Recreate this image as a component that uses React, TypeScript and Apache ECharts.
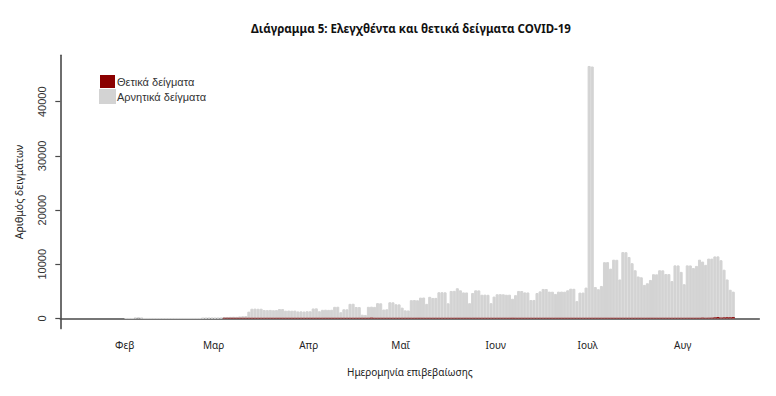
import React, { useEffect, useRef } from "react";
import * as echarts from "echarts";

// Day categories: 2020-01-11 .. 2020-08-25 (228 days); data from 1 Feb to 17 Aug
const startDateUTC = Date.UTC(2020, 0, 11);
const dayCount = 228;
const leadingEmptyDays = 21;
const monthNames = ["Ιαν", "Φεβ", "Μαρ", "Απρ", "Μαΐ", "Ιουν", "Ιουλ", "Αυγ"];
const yTicks = [0, 10000, 20000, 30000, 40000];

// Total samples tested per day (grey bars), by month
const totalFeb = [0, 0, 0, 150, 220, 120, 0, 0, 0, 0, 0, 0, 0, 0, 0, 0, 0, 0, 0, 0, 0, 0, 0, 0, 0, 90, 110, 130, 120];
const totalMar = [110, 120, 150, 250, 280, 300, 320, 300, 380, 420, 460, 1260, 1800, 1820, 1790, 1800, 1560, 1540, 1580, 1520, 1550, 1750, 1740, 1440, 1460, 1430, 1450, 1300, 1320, 1280, 1340];
const totalApr = [1330, 1850, 1870, 1330, 1600, 1620, 1590, 1610, 2150, 2170, 1150, 1700, 1690, 2700, 2720, 2120, 2100, 700, 650, 2150, 2180, 2140, 2830, 2800, 1650, 1700, 2990, 2980, 2620, 2600];
const totalMay = [2000, 1500, 1480, 3380, 3400, 3360, 3850, 3870, 2700, 4000, 3790, 3800, 4840, 4850, 4830, 2800, 5080, 5100, 5580, 5200, 4810, 4800, 2820, 4700, 5200, 5180, 4380, 4400, 4370, 2820, 4040];
const totalJun = [4470, 4480, 4460, 4380, 4390, 3640, 4300, 5080, 5070, 4810, 4800, 3400, 3420, 4700, 5000, 5450, 5440, 4950, 4940, 4530, 4950, 4960, 4940, 5200, 5500, 5480, 3200, 4770, 4780, 5700];
const totalJul = [46600, 46500, 5800, 5400, 6000, 10390, 10400, 9200, 10850, 10830, 7200, 12250, 12230, 11350, 10200, 8900, 7750, 7600, 6200, 6500, 7110, 8170, 8150, 8900, 8880, 8200, 8190, 6900, 9800, 9790, 8600];
const totalAug = [6320, 9800, 9790, 9300, 9700, 10850, 10500, 9900, 11050, 11040, 11450, 11460, 10750, 9000, 7200, 5300, 4950];

// Positive samples per day (red bars), by month
const posFeb = [null, null, null, null, null, null, null, null, null, null, null, null, null, null, null, null, null, null, null, null, null, null, null, null, null, null, null, null, null];
const posMar = [null, null, null, 2, 2, 14, 14, 34, 7, 16, 10, 18, 73, 38, 103, 21, 35, 31, 46, 31, 35, 94, 71, 48, 78, 71, 74, 95, 95, 56, 102];
const posApr = [101, 129, 69, 60, 62, 20, 77, 52, 71, 56, 70, 33, 31, 25, 22, 15, 17, 11, 1, 10, 156, 7, 16, 10, 15, 11, 28, 15, 10, 12];
const posMay = [4, 3, 7, 4, 10, 19, 16, 10, 15, 6, 14, 16, 16, 12, 4, 10, 4, 6, 15, 4, 10, 3, 16, 2, 4, 12, 5, 14, 4, 11, 2];
const posJun = [3, 6, 17, 22, 15, 12, 2, 3, 2, 19, 4, 29, 20, 10, 22, 15, 28, 13, 16, 25, 32, 10, 9, 6, 12, 33, 20, 30, 19, 12];
const posJul = [16, 14, 19, 14, 5, 20, 12, 19, 21, 25, 41, 25, 27, 9, 15, 27, 19, 44, 22, 24, 24, 25, 21, 27, 37, 30, 35, 46, 37, 28, 36];
const posAug = [110, 39, 110, 40, 80, 121, 153, 113, 141, 151, 203, 262, 168, 205, 230, 217, 254];

const TITLE = "Διάγραμμα 5: Ελεγχθέντα και θετικά δείγματα COVID-19";
const POS_NAME = "Θετικά δείγματα";
const NEG_NAME = "Αρνητικά δείγματα";

function padSeries(values: (number | null)[]): (number | null)[] {
  const out: (number | null)[] = new Array(leadingEmptyDays).fill(null);
  for (const v of values) out.push(v);
  while (out.length < dayCount) out.push(null);
  return out;
}

export default function App() {
  const ref = useRef<HTMLDivElement>(null);

  useEffect(() => {
    if (!ref.current) return;
    const chart = echarts.init(ref.current, null, { renderer: "svg" });

    const categories: string[] = [];
    for (let i = 0; i < dayCount; i++) {
      categories.push(new Date(startDateUTC + i * 86400000).toISOString().slice(0, 10));
    }
    const totals = padSeries([...totalFeb, ...totalMar, ...totalApr, ...totalMay, ...totalJun, ...totalJul, ...totalAug]);
    const positives = padSeries([...posFeb, ...posMar, ...posApr, ...posMay, ...posJun, ...posJul, ...posAug]);

    const isMonthStart = (_i: number, v: string) => typeof v === "string" && v.slice(8, 10) === "01";
    const axisColor = "#4a4a4a";

    chart.setOption({
      animation: false,
      backgroundColor: "#ffffff",
      graphic: [
        {
          type: "text",
          x: 411,
          y: 28,
          style: {
            text: TITLE,
            fontFamily: "Noto Sans",
            fontWeight: "bold",
            fontSize: 11.5,
            fill: "#111",
            align: "center",
            verticalAlign: "middle",
          },
        },
      ],
      legend: {
        orient: "vertical",
        left: 99,
        top: 75,
        padding: 0,
        itemWidth: 15,
        itemHeight: 13,
        itemGap: 1,
        icon: "rect",
        data: [POS_NAME, NEG_NAME],
        textStyle: { fontFamily: "Liberation Sans", fontSize: 11, color: "#333", padding: [0, 0, 0, -3], lineHeight: 13 },
      },
      grid: { left: 60.3, top: 55.3, width: 699, height: 273.3 },
      xAxis: {
        type: "category",
        data: categories,
        boundaryGap: true,
        axisLine: { lineStyle: { color: axisColor, width: 1.6 } },
        axisTick: { interval: isMonthStart, alignWithLabel: false, length: 5, lineStyle: { color: axisColor, width: 1.2 } },
        axisLabel: {
          interval: isMonthStart,
          formatter: (v: string) => monthNames[parseInt(v.slice(5, 7), 10) - 1],
          fontFamily: "Noto Sans",
          fontSize: 10,
          color: "#222",
          margin: 11,
          padding: [0, 3, 0, 0],
        },
        name: "Ημερομηνία επιβεβαίωσης",
        nameLocation: "middle",
        nameGap: 38,
        nameTextStyle: { fontFamily: "Noto Sans", fontSize: 10, color: "#222" },
        splitLine: { show: false },
      },
      yAxis: {
        type: "value",
        min: -1868,
        max: 48568,
        splitLine: { show: false },
        axisLine: { show: true, lineStyle: { color: axisColor, width: 1.6 } },
        axisTick: { show: true, customValues: yTicks, length: 5, lineStyle: { color: axisColor, width: 1.2 } },
        axisLabel: {
          customValues: yTicks,
          formatter: (v: number) => String(Math.round(v)),
          rotate: 90,
          margin: 13,
          fontFamily: "Liberation Sans",
          fontSize: 11,
          color: "#333",
        },
        name: "Αριθμός δειγμάτων",
        nameLocation: "middle",
        nameRotate: 90,
        nameGap: 36,
        nameTextStyle: { fontFamily: "Noto Sans", fontSize: 10.5, color: "#222" },
      },
      series: [
        {
          name: NEG_NAME,
          type: "bar",
          data: totals,
          barWidth: "100%",
          itemStyle: { color: "#D3D3D3", borderColor: "#D3D3D3", borderWidth: 1 },
        },
        {
          name: POS_NAME,
          type: "bar",
          data: positives,
          barWidth: "100%",
          barGap: "-100%",
          barMinHeight: 0.7,
          itemStyle: { color: "#8B0000" },
        },
      ],
    });

    return () => chart.dispose();
  }, []);

  return <div ref={ref} style={{ position: "fixed", left: 0, top: 0, width: 776, height: 396 }} />;
}
